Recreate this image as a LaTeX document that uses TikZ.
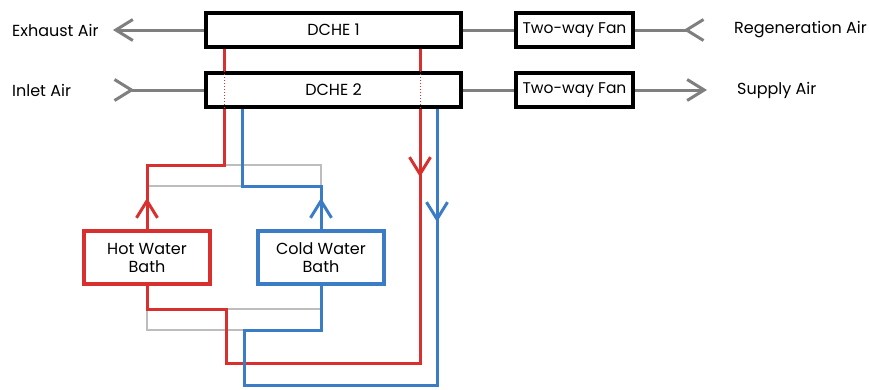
\documentclass[tikz,border=0pt]{standalone}
\usepackage{fontspec}
\setmainfont{Poppins}
\usetikzlibrary{arrows.meta,positioning,calc,decorations.markings,backgrounds}

\definecolor{hotred}{HTML}{D8302F}
\definecolor{coldblue}{HTML}{3A7CC6}
\definecolor{airgray}{HTML}{7F7F7F}
\definecolor{valvegray}{HTML}{BDBDBD}

\begin{document}
\begin{tikzpicture}[x=1pt,y=-1pt,
  unit/.style={rectangle,draw,line width=4pt,fill=white,minimum width=255pt,minimum height=34pt,inner sep=0pt,font=\fontsize{16}{18}\selectfont},
  fan/.style={unit,minimum width=117pt,font=\fontsize{15.5}{17}\selectfont},
  bath/.style={rectangle,draw,line width=4pt,fill=white,minimum width=126pt,minimum height=53pt,inner sep=0pt,align=center,font=\fontsize{16}{18}\selectfont},
  airtext/.style={anchor=west,inner sep=0pt,font=\fontsize{16}{18}\selectfont},
  air/.style={draw=airgray,line width=3pt},
  chev/.tip={Straight Barb[length=17pt,width=21pt]},
  pipe/.style={line width=3pt},
  valve/.style={draw=valvegray,line width=2pt},
  midarrow/.style={postaction={decorate},decoration={markings,mark=at position #1 with {\arrow{chev}}}}
]
\useasboundingbox (0,0) rectangle (869,389);

% heat exchangers
\node[unit] (dche1) at (333.5,30) {DCHE 1};
\node[unit] (dche2) at (333.5,90) {DCHE 2};

% fans
\node[fan] (fan1) at (574.5,30) {Two-way Fan};
\node[fan] (fan2) at (574.5,90) {Two-way Fan};

% water baths
\node[bath,draw=hotred] (hot) at (147,257.5) {Hot Water\\Bath};
\node[bath,draw=coldblue] (cold) at (321,257.5) {Cold Water\\Bath};

% air labels
\node[airtext] (exhaust) at (12,30) {Exhaust Air};
\node[airtext] (inlet) at (12,90) {Inlet Air};
\node[airtext] (regen) at (734,30) {Regeneration Air};
\node[airtext] (supply) at (737,90) {Supply Air};

% arrow ends
\coordinate (exhaustTip) at (113,30);
\coordinate (inletEnd) at (113,90);
\coordinate (regenEnd) at (705,30);
\coordinate (supplyTip) at (707,90);

% pipe corners
\coordinate (hotIn) at (224,165);
\coordinate (coldIn) at (242,186);
\coordinate (hotOut) at (420,363);
\coordinate (coldOut) at (437,385);
\coordinate (hotRet) at (226,309);
\coordinate (coldRet) at (244,330);

\begin{scope}[on background layer]
% air streams
\draw[air,-chev] (dche1.west) -- (exhaustTip);
\draw[air,{chev[reversed]}-] (inletEnd) -- (dche2.west);
\draw[air] (dche1.east) -- (fan1.west);
\draw[air] (dche2.east) -- (fan2.west);
\draw[air,-{chev[reversed]}] (fan1.east) -- (regenEnd);
\draw[air,-chev] (fan2.east) -- (supplyTip);

% bypass lines
\draw[valve] (hotIn) -| (coldIn -| cold.north);
\draw[valve] (hot.north |- coldIn) -- (coldIn);
\draw[valve] (hotRet -| hot.south) |- (coldRet);
\draw[valve] (hotRet) -- (hotRet -| cold.south);

% hot loop
\draw[pipe,hotred,midarrow=31pt] (hot.north) |- (hotIn) -- (hotIn |- dche2.south);
\draw[pipe,hotred] (hotIn |- dche1.south) -- (hotIn |- dche2.north);
\draw[pipe,hotred] (hotOut |- dche1.south) -- (hotOut |- dche2.north);
\draw[pipe,hotred,midarrow=68pt] (hotOut |- dche2.south) -- (hotOut) -| (hotRet) -| (hot.south);

% cold loop
\draw[pipe,coldblue,midarrow=31pt] (cold.north) |- (coldIn) -- (coldIn |- dche2.south);
\draw[pipe,coldblue,midarrow=113pt] (coldOut |- dche2.south) -- (coldOut) -| (coldRet) -| (cold.south);
\end{scope}

% red lines through DCHE 2
\draw[hotred,line width=1pt,dotted] (hotIn |- dche2.north) -- (hotIn |- dche2.south);
\draw[hotred,line width=1pt,dotted] (hotOut |- dche2.north) -- (hotOut |- dche2.south);

\end{tikzpicture}
\end{document}
